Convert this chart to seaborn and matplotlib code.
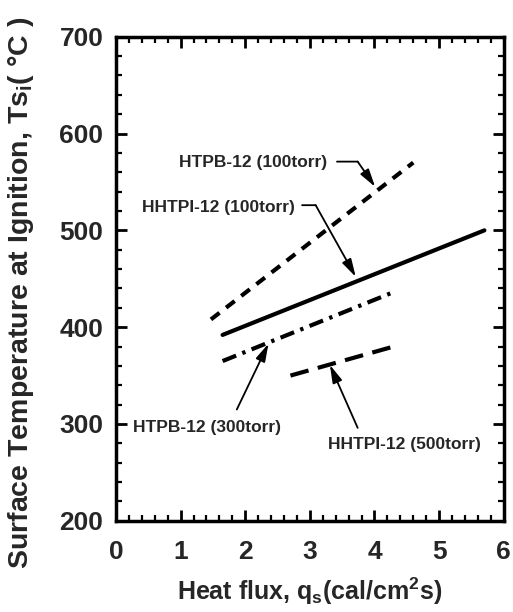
import numpy as np
import pandas as pd
import matplotlib
matplotlib.use("Agg")
import matplotlib.pyplot as plt
import seaborn as sns
from matplotlib.ticker import MultipleLocator

# ---- data ----
series_names = ["HTPB-12 (100torr)", "HHTPI-12 (100torr)", "HTPB-12 (300torr)", "HHTPI-12 (500torr)"]
htpb100_x = [1.47, 4.6]
htpb100_y = [408, 570]
hhtpi100_x = [1.65, 5.7]
hhtpi100_y = [392, 500]
htpb300_x = [1.65, 4.25]
htpb300_y = [365, 435]
hhtpi500_x = [2.7, 4.35]
hhtpi500_y = [350, 381]

x_ticks = [0, 1, 2, 3, 4, 5, 6]
y_ticks = [200, 300, 400, 500, 600, 700]

sns.set_theme(style="ticks")
plt.rcParams["font.family"] = ["Liberation Sans", "DejaVu Sans"]
plt.rcParams["font.weight"] = "bold"
plt.rcParams["mathtext.fontset"] = "custom"
plt.rcParams["mathtext.rm"] = "Liberation Sans:bold"
plt.rcParams["mathtext.it"] = "Liberation Sans:bold"
plt.rcParams["mathtext.bf"] = "Liberation Sans:bold"
plt.rcParams["mathtext.default"] = "rm"

df = pd.concat([
    pd.DataFrame({"series": series_names[0], "q": htpb100_x, "T": htpb100_y}),
    pd.DataFrame({"series": series_names[1], "q": hhtpi100_x, "T": hhtpi100_y}),
    pd.DataFrame({"series": series_names[2], "q": htpb300_x, "T": htpb300_y}),
    pd.DataFrame({"series": series_names[3], "q": hhtpi500_x, "T": hhtpi500_y}),
])

fig = plt.figure(figsize=(5.13, 6.12), dpi=100)
ax = fig.add_axes([0.226, 0.149, 0.756, 0.791])

styles = {
    series_names[0]: (0, (2.6, 2.0)),
    series_names[1]: "-",
    series_names[2]: (0, (3.5, 1.6, 0.8, 1.6)),
    series_names[3]: (0, (4.5, 2.3)),
}
for name in series_names:
    sub = df[df["series"] == name]
    sns.lineplot(data=sub, x="q", y="T", ax=ax, color="black", lw=3.0,
                 linestyle=styles[name], estimator=None, sort=False)

ax.set_xlim(0, 6)
ax.set_ylim(200, 700)
ax.set_xticks(x_ticks)
ax.set_yticks(y_ticks)
ax.xaxis.set_minor_locator(MultipleLocator(0.2))
ax.yaxis.set_minor_locator(MultipleLocator(20))
ax.tick_params(which="both", direction="in", top=True, right=True, color="black")
ax.tick_params(which="major", length=8, width=2.0, labelsize=19)
ax.tick_params(axis="x", which="major", pad=14)
ax.tick_params(axis="y", which="major", pad=9)
ax.tick_params(which="minor", length=4, width=1.6)
for lab in ax.get_xticklabels() + ax.get_yticklabels():
    lab.set_fontweight("bold")
for sp in ax.spines.values():
    sp.set_linewidth(2.5)
    sp.set_color("black")

ax.set_xlabel(r"Heat flux, q$_\mathregular{s}$(cal/cm$^\mathregular{2}$s)", fontsize=18,
              fontweight="bold", labelpad=8)
ax.set_ylabel(r"Surface Temperature at Ignition, Ts$_\mathregular{i}$( °C )", fontsize=20.5,
              fontweight="bold")
ax.yaxis.set_label_coords(-0.205, 0.47)

ann_fs = 12.5
arrow_kw = dict(arrowstyle="-|>,head_length=0.9,head_width=0.25", color="black", lw=1.3,
                shrinkA=0, shrinkB=0)
line_kw = dict(arrowstyle="-", color="black", lw=1.3, shrinkA=0, shrinkB=0)

# HTPB-12 (100torr)
ax.text(0.98, 570, series_names[0], fontsize=ann_fs, fontweight="bold", va="center", ha="left")
ax.annotate("", xy=(3.74, 571), xytext=(3.42, 571), arrowprops=line_kw)
ax.annotate("", xy=(4.01, 545), xytext=(3.74, 571), arrowprops=arrow_kw)

# HHTPI-12 (100torr)
ax.text(0.40, 524, series_names[1], fontsize=ann_fs, fontweight="bold", va="center", ha="left")
ax.annotate("", xy=(3.09, 526), xytext=(2.88, 526), arrowprops=line_kw)
ax.annotate("", xy=(3.71, 452), xytext=(3.09, 526), arrowprops=arrow_kw)

# HTPB-12 (300torr)
ax.text(0.26, 296, series_names[2], fontsize=ann_fs, fontweight="bold", va="center", ha="left")
ax.annotate("", xy=(2.36, 383), xytext=(1.87, 315), arrowprops=arrow_kw)

# HHTPI-12 (500torr)
ax.text(3.28, 279, series_names[3], fontsize=ann_fs, fontweight="bold", va="center", ha="left")
ax.annotate("", xy=(3.31, 361), xytext=(3.74, 296), arrowprops=arrow_kw)

fig.savefig("out.png", dpi=100)
